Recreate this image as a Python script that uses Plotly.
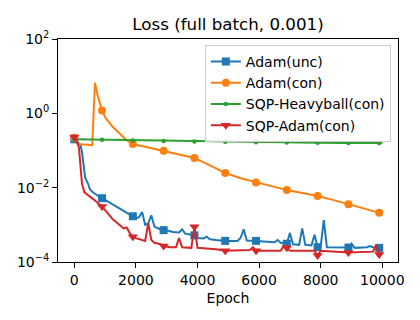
import plotly.graph_objects as go

# Adam (unconstrained)
adam_unc_epoch = [0, 100, 200, 250, 300, 350, 450, 500, 600, 700, 800, 900,
                  1100, 1300, 1500, 1700, 1900, 2000, 2100, 2200, 2300, 2400,
                  2500, 2600, 2700, 2800, 2900, 3000, 3200, 3400, 3500, 3600,
                  3800, 3900, 4000, 4200, 4300, 4400, 4600, 4900, 5300, 5400,
                  5500, 5600, 5900, 6300, 6500, 6600, 6700, 6900, 7000, 7100,
                  7300, 7400, 7500, 7700, 7800, 7900, 8000, 8100, 8200, 8900,
                  9000, 9100, 9500, 9600, 9700, 9900, 9999]
adam_unc_loss = [0.20, 0.17, 0.14, 0.09, 0.035, 0.019, 0.0125, 0.0092, 0.0075,
                 0.0065, 0.0058, 0.0052, 0.0042, 0.0033, 0.0027, 0.0021, 0.0017,
                 0.0015, 0.0016, 0.0022, 0.0010, 0.0011, 0.0018, 0.0009, 0.0008,
                 0.00075, 0.00072, 0.00071, 0.00064, 0.00062, 0.00076, 0.00058,
                 0.00054, 0.00052, 0.00044, 0.00043, 0.00048, 0.00041, 0.00039,
                 0.00037, 0.00037, 0.00045, 0.00076, 0.00038, 0.00037, 0.00036,
                 0.00034, 0.00039, 0.00033, 0.00031, 0.0006, 0.0003, 0.00029,
                 0.0008, 0.00029, 0.00028, 0.00054, 0.00025, 0.00026, 0.00135,
                 0.00025, 0.000245, 0.00031, 0.00024, 0.00025, 0.00027, 0.00025,
                 0.00024, 0.00024]

# Adam (constrained)
adam_con_epoch = [0, 100, 300, 500, 580, 670, 770, 900, 1000, 1250, 1500, 1700,
                  1900, 2400, 2900, 3400, 3900, 4400, 4900, 5400, 5900, 6400,
                  6900, 7400, 7900, 8400, 8900, 9400, 9900, 9999]
adam_con_loss = [0.22, 0.15, 0.145, 0.143, 0.14, 6.6, 2.75, 1.2, 0.78, 0.43,
                 0.27, 0.19, 0.15, 0.12, 0.098, 0.08, 0.063, 0.04, 0.025, 0.018,
                 0.0138, 0.011, 0.0087, 0.0072, 0.006, 0.0047, 0.0036, 0.0028,
                 0.0021, 0.002]

# SQP-Heavyball (constrained)
sqp_hb_epoch = [0, 900, 1900, 2900, 3900, 4900, 5900, 6900, 7900, 8900, 9900, 9999]
sqp_hb_loss = [0.20, 0.195, 0.185, 0.181, 0.176, 0.172, 0.168, 0.165, 0.162,
               0.160, 0.158, 0.158]

# SQP-Adam (constrained)
sqp_adam_epoch = [0, 100, 150, 200, 250, 330, 400, 500, 600, 700, 800, 900,
                  1000, 1250, 1500, 1600, 1700, 1800, 1900, 2000, 2200, 2300,
                  2400, 2500, 2600, 2800, 2900, 3100, 3300, 3400, 3500, 3800,
                  3900, 4000, 4300, 4600, 4900, 5700, 5800, 5900, 6700, 6800,
                  6900, 7000, 7800, 7900, 8000, 8900, 9700, 9800, 9900, 9999]
sqp_adam_loss = [0.23, 0.16, 0.12, 0.045, 0.0125, 0.0075, 0.0066, 0.0058, 0.005,
                 0.0043, 0.0036, 0.0031, 0.0025, 0.0014, 0.00095, 0.0008,
                 0.00085, 0.0006, 0.00048, 0.00044, 0.00039, 0.00037, 0.0011,
                 0.00039, 0.00033, 0.0003, 0.00027, 0.00025, 0.00025, 0.00044,
                 0.00025, 0.00024, 0.00089, 0.00024, 0.00023, 0.00022, 0.0002,
                 0.00021, 0.00025, 0.0002, 0.0002, 0.00027, 0.00024, 0.0002,
                 0.0002, 0.00015, 0.0002, 0.00018, 0.00019, 0.00029, 0.00016,
                 0.00018]

# epochs where a marker is drawn
mark_epochs = [0, 900, 1900, 2900, 3900, 4900, 5900, 6900, 7900, 8900, 9900]

x_ticks = [0, 2000, 4000, 6000, 8000, 10000]
x_tick_text = ["0", "2000", "4000", "6000", "8000", "10000"]
y_ticks = [1e-4, 1e-2, 1, 1e2]
y_tick_text = ["10<sup>\u22124</sup>", "10<sup>\u22122</sup>", "10<sup>0</sup>", "10<sup>2</sup>"]

series = [
    ("Adam(unc)", adam_unc_epoch, adam_unc_loss, "#1f77b4", "square", 8),
    ("Adam(con)", adam_con_epoch, adam_con_loss, "#ff7f0e", "circle", 8),
    ("SQP-Heavyball(con)", sqp_hb_epoch, sqp_hb_loss, "#2ca02c", "circle", 4.5),
    ("SQP-Adam(con)", sqp_adam_epoch, sqp_adam_loss, "#d62728", "triangle-down", 9),
]

fig = go.Figure()
for name, ep, loss, color, symbol, msize in series:
    fig.add_trace(go.Scatter(x=ep, y=loss, mode="lines", showlegend=False,
                             line=dict(color=color, width=2), hoverinfo="skip"))
    mx = [e for e in ep if e in mark_epochs]
    my = [v for e, v in zip(ep, loss) if e in mark_epochs]
    fig.add_trace(go.Scatter(x=mx, y=my, mode="markers", showlegend=False,
                             marker=dict(color=color, symbol=symbol, size=msize)))
    # legend entry (line + marker)
    fig.add_trace(go.Scatter(x=[None], y=[None], mode="lines+markers", name=name,
                             line=dict(color=color, width=2),
                             marker=dict(color=color, symbol=symbol, size=msize)))

# page body has an 8px margin, so the figure is 8px smaller and offset
font = "DejaVu Sans"
fig.update_layout(
    width=412, height=312,
    margin=dict(l=50, r=22, t=31, b=58, autoexpand=False),
    paper_bgcolor="white", plot_bgcolor="white",
    font=dict(family=font, size=14, color="black"),
    title=dict(text="Loss (full batch, 0.001)", x=0.5, xref="paper",
               y=1 - 16.5 / 312, yref="container", yanchor="middle",
               font=dict(family=font, size=16.7, color="black")),
    legend=dict(x=0.979, xanchor="right", y=0.973, yanchor="top",
                bgcolor="rgba(255,255,255,0.8)", bordercolor="#cccccc",
                borderwidth=1, font=dict(family=font, size=14, color="black")),
)
fig.update_xaxes(range=[-530, 10510], tickvals=x_ticks, ticktext=x_tick_text,
                 automargin=False, showgrid=False,
                 zeroline=False, showline=True, mirror=True, linecolor="black",
                 linewidth=1, ticks="outside", ticklen=5, tickcolor="black",
                 tickfont=dict(family=font, size=14, color="black"),
                 title=dict(text="Epoch", standoff=6,
                            font=dict(family=font, size=14, color="black")))
fig.update_yaxes(type="log", range=[-4, 2], tickvals=y_ticks, ticktext=y_tick_text,
                 automargin=False,
                 showgrid=False, zeroline=False, showline=True, mirror=True,
                 linecolor="black", linewidth=1, ticks="outside", ticklen=5,
                 tickcolor="black",
                 tickfont=dict(family=font, size=14, color="black"))

fig.write_html("out.html")
